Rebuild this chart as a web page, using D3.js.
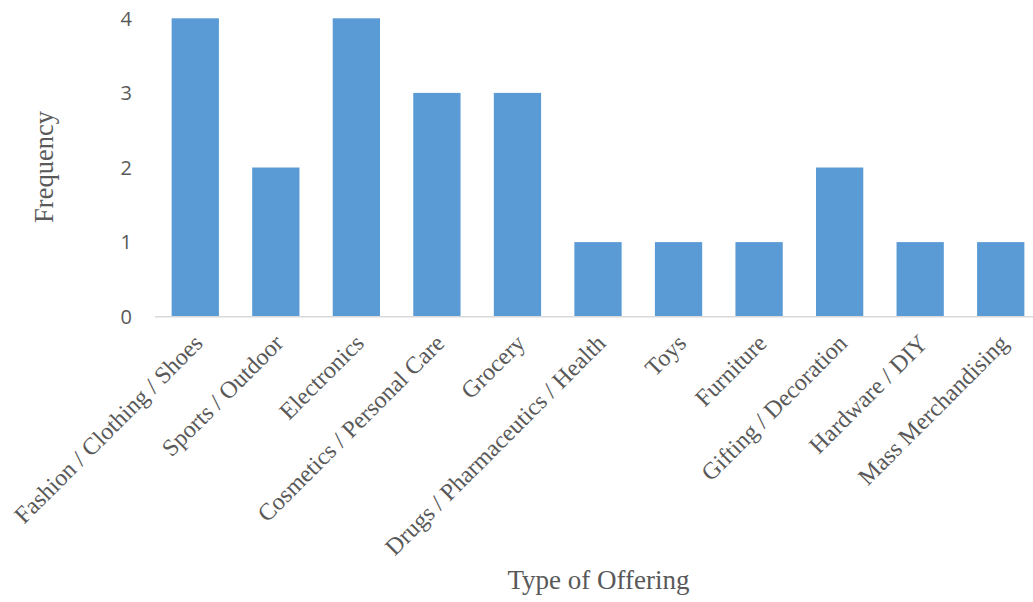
<!DOCTYPE html>
<html>
<head>
<meta charset="utf-8">
<script src="https://cdn.jsdelivr.net/npm/d3@7"></script>
<style>
  html, body { margin: 0; padding: 0; background: #fff; }
  svg { display: block; }
</style>
</head>
<body>
<svg id="chart" width="1033" height="602"></svg>
<script>
// Offering types and how often each appears
const categories = [
  "Fashion / Clothing / Shoes",
  "Sports / Outdoor",
  "Electronics",
  "Cosmetics / Personal Care",
  "Grocery",
  "Drugs / Pharmaceutics / Health",
  "Toys",
  "Furniture",
  "Gifting / Decoration",
  "Hardware / DIY",
  "Mass Merchandising"
];
const frequency = [4, 2, 4, 3, 3, 1, 1, 1, 2, 1, 1];
const yTicks = [0, 1, 2, 3, 4];

const serif = "'Liberation Serif', 'Times New Roman', Times, serif";
const svg = d3.select("#chart");

const x = d3.scaleBand()
  .domain(categories)
  .range([155, 1041])
  .paddingInner(0.413)
  .paddingOuter(0.2065);

const y = d3.scaleLinear()
  .domain([0, 4])
  .range([316.7, 18.3]);

// Bars
svg.append("g")
  .selectAll("rect")
  .data(categories)
  .join("rect")
  .attr("x", d => x(d))
  .attr("y", (d, i) => y(frequency[i]))
  .attr("width", x.bandwidth())
  .attr("height", (d, i) => y(0) - y(frequency[i]))
  .attr("fill", "#5B9BD5");

// Baseline
svg.append("line")
  .attr("x1", 155).attr("x2", 1041)
  .attr("y1", y(0)).attr("y2", y(0))
  .attr("stroke", "#D9D9D9")
  .attr("stroke-width", 1.5);

// Y tick labels
svg.append("g")
  .selectAll("text")
  .data(yTicks)
  .join("text")
  .attr("x", 132)
  .attr("y", d => y(d))
  .attr("dy", "0.36em")
  .attr("text-anchor", "end")
  .attr("font-family", "'Open Sans', 'Noto Sans', sans-serif")
  .attr("font-size", 20)
  .attr("fill", "#595959")
  .text(d => d);

// Category labels, rotated
svg.append("g")
  .selectAll("text")
  .data(categories)
  .join("text")
  .attr("transform", d => `translate(${x(d) + x.bandwidth() / 2 + 3},${y(0) + 22}) rotate(-45)`)
  .attr("text-anchor", "end")
  .attr("dy", "0.35em")
  .attr("font-family", serif)
  .attr("font-size", 24)
  .attr("fill", "#595959")
  .text(d => d);

// Axis titles
svg.append("text")
  .attr("x", 598.5)
  .attr("y", 589)
  .attr("text-anchor", "middle")
  .attr("font-family", serif)
  .attr("font-size", 27)
  .attr("fill", "#595959")
  .text("Type of Offering");

svg.append("text")
  .attr("transform", "translate(53,167) rotate(-90)")
  .attr("text-anchor", "middle")
  .attr("font-family", serif)
  .attr("font-size", 26.5)
  .attr("fill", "#595959")
  .text("Frequency");
</script>
</body>
</html>
